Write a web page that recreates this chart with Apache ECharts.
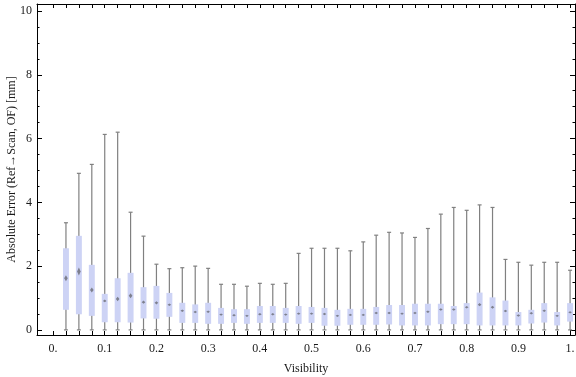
<!DOCTYPE html>
<html style="height: 100%">
<head>
    <meta charset="utf-8">
</head>
<body style="height: 100%; margin: 0; background: #fff">
<div id="container" style="width: 576px; height: 377px"></div>
<script type="text/javascript" src="https://cdn.jsdelivr.net/npm/echarts@6.0.0/dist/echarts.min.js"></script>
<script type="text/javascript">
  // box centers on the visibility axis
  const visibility = [0.025, 0.05, 0.075, 0.1, 0.125, 0.15, 0.175, 0.2, 0.225, 0.25,
    0.275, 0.3, 0.325, 0.35, 0.375, 0.4, 0.425, 0.45, 0.475, 0.5,
    0.525, 0.55, 0.575, 0.6, 0.625, 0.65, 0.675, 0.7, 0.725, 0.75,
    0.775, 0.8, 0.825, 0.85, 0.875, 0.9, 0.925, 0.95, 0.975, 1.0];
  const whiskerLow = [0, 0, 0, 0, 0, 0, 0, 0, 0, 0,
    0, 0, 0, 0, 0, 0, 0, 0, 0, 0,
    0, 0, 0, 0, 0, 0, 0, 0, 0, 0,
    0, 0, 0, 0, 0, 0, 0, 0, 0, 0];
  const quartile1 = [0.63, 0.49, 0.44, 0.24, 0.24, 0.23, 0.36, 0.35, 0.41, 0.22,
    0.22, 0.19, 0.19, 0.22, 0.19, 0.22, 0.22, 0.22, 0.19, 0.22,
    0.13, 0.13, 0.16, 0.16, 0.16, 0.17, 0.14, 0.14, 0.14, 0.18,
    0.18, 0.18, 0.14, 0.14, 0.14, 0.14, 0.2, 0.23, 0.14, 0.26];
  const medians = [1.62, 1.83, 1.25, 0.91, 0.97, 1.07, 0.87, 0.85, 0.79, 0.60,
    0.56, 0.57, 0.48, 0.46, 0.44, 0.49, 0.49, 0.48, 0.51, 0.51,
    0.50, 0.44, 0.47, 0.47, 0.53, 0.53, 0.51, 0.53, 0.57, 0.64,
    0.64, 0.71, 0.79, 0.71, 0.59, 0.45, 0.52, 0.60, 0.44, 0.55];
  const quartile3 = [2.56, 2.95, 2.04, 1.13, 1.62, 1.79, 1.34, 1.38, 1.16, 0.85,
    0.80, 0.85, 0.69, 0.65, 0.65, 0.75, 0.75, 0.69, 0.75, 0.72,
    0.69, 0.63, 0.66, 0.66, 0.72, 0.78, 0.78, 0.82, 0.82, 0.82,
    0.75, 0.84, 1.17, 1.02, 0.92, 0.56, 0.63, 0.84, 0.56, 0.84];
  const whiskerHigh = [3.36, 4.91, 5.19, 6.13, 6.20, 3.69, 2.94, 2.06, 1.92, 1.95,
    2.0, 1.93, 1.43, 1.43, 1.37, 1.46, 1.43, 1.46, 2.40, 2.56,
    2.56, 2.56, 2.48, 2.76, 2.97, 3.06, 3.04, 2.90, 3.18, 3.63,
    3.84, 3.75, 3.92, 3.84, 2.21, 2.12, 2.03, 2.12, 2.12, 1.87];

  // ticks and labels
  const xTicks = [0, 0.025, 0.05, 0.075, 0.1, 0.125, 0.15, 0.175, 0.2, 0.225, 0.25,
    0.275, 0.3, 0.325, 0.35, 0.375, 0.4, 0.425, 0.45, 0.475, 0.5,
    0.525, 0.55, 0.575, 0.6, 0.625, 0.65, 0.675, 0.7, 0.725, 0.75,
    0.775, 0.8, 0.825, 0.85, 0.875, 0.9, 0.925, 0.95, 0.975, 1.0];
  const xLabels = [0, 0.1, 0.2, 0.3, 0.4, 0.5, 0.6, 0.7, 0.8, 0.9, 1];
  const yMajor = [0, 2, 4, 6, 8, 10];
  const yMinor = [0, 0.5, 1, 1.5, 2, 2.5, 3, 3.5, 4, 4.5, 5, 5.5, 6, 6.5, 7, 7.5,
    8, 8.5, 9, 9.5, 10];

  const font = 'Liberation Serif';
  const textColor = '#1a1a1a';
  const xRange = { min: -0.031, max: 1.0095 };
  const yRange = { min: -0.16, max: 10.22 };

  const boxData = visibility.map(function (v, i) {
    return [v, whiskerLow[i], quartile1[i], medians[i], quartile3[i], whiskerHigh[i]];
  });

  function renderBox(params, api) {
    const x = api.value(0);
    const lo = api.coord([x, api.value(1)]);
    const q1 = api.coord([x, api.value(2)]);
    const med = api.coord([x, api.value(3)]);
    const q3 = api.coord([x, api.value(4)]);
    const hi = api.coord([x, api.value(5)]);
    const cx = med[0];
    const half = api.size([0.025, 0])[0] * 0.23;
    const cap = 2;
    const notch = Math.max(1.2, (q1[1] - q3[1]) * 0.05);
    const whisker = { stroke: '#808080', lineWidth: 1.2 };
    return {
      type: 'group',
      children: [
        { type: 'line', shape: { x1: cx, y1: lo[1], x2: cx, y2: hi[1] }, style: whisker },
        { type: 'line', shape: { x1: cx - cap, y1: hi[1], x2: cx + cap, y2: hi[1] }, style: whisker },
        { type: 'line', shape: { x1: cx - cap, y1: lo[1], x2: cx + cap, y2: lo[1] }, style: whisker },
        { type: 'rect', shape: { x: cx - half, y: q3[1], width: half * 2, height: q1[1] - q3[1] },
          style: { fill: '#cdd3f5' } },
        { type: 'polygon',
          shape: { points: [[cx, med[1] - notch], [cx + 1.8, med[1]], [cx, med[1] + notch], [cx - 1.8, med[1]]] },
          style: { fill: '#7e808e' } }
      ]
    };
  }

  const frameLine = { show: true, onZero: false, lineStyle: { color: '#000', width: 1 } };
  const noLine = { show: false, onZero: false };

  var dom = document.getElementById('container');
  var myChart = echarts.init(dom, null, { renderer: 'canvas' });
  var option = {
    animation: false,
    backgroundColor: '#fff',
    grid: { left: 37, right: 1, top: 4, bottom: 42, containLabel: false, outerBoundsMode: 'none' },
    xAxis: [
      {
        type: 'value', position: 'bottom', min: xRange.min, max: xRange.max,
        name: 'Visibility', nameLocation: 'middle', nameGap: 28, nameMoveOverlap: false,
        nameTextStyle: { fontFamily: font, fontSize: 12, color: textColor },
        axisLine: frameLine,
        axisTick: { show: true, inside: true, length: 4, customValues: xTicks, lineStyle: { color: '#000' } },
        axisLabel: {
          show: true, customValues: xLabels, margin: 8,
          fontFamily: font, fontSize: 12, color: textColor,
          formatter: function (v) {
            if (v === 0) return '0.';
            if (v === 1) return '1.';
            return v.toFixed(1);
          }
        },
        splitLine: { show: false }
      },
      {
        type: 'value', position: 'top', min: xRange.min, max: xRange.max,
        axisLine: frameLine,
        axisTick: { show: true, inside: true, length: 4, customValues: xTicks, lineStyle: { color: '#000' } },
        axisLabel: { show: false },
        splitLine: { show: false }
      }
    ],
    yAxis: [
      {
        type: 'value', position: 'left', min: yRange.min, max: yRange.max,
        name: 'Absolute Error (Ref\u2192Scan, OF) [mm]', nameLocation: 'middle', nameGap: 19,
        nameMoveOverlap: false,
        nameTextStyle: { fontFamily: font, fontSize: 12, color: textColor },
        axisLine: frameLine,
        axisTick: { show: true, inside: true, length: 5, customValues: yMajor, lineStyle: { color: '#000' } },
        axisLabel: {
          show: true, customValues: yMajor, margin: 5,
          fontFamily: font, fontSize: 12, color: textColor
        },
        splitLine: { show: false }
      },
      {
        type: 'value', position: 'left', min: yRange.min, max: yRange.max,
        axisLine: noLine,
        axisTick: { show: true, inside: true, length: 2.5, customValues: yMinor, lineStyle: { color: '#000' } },
        axisLabel: { show: false },
        splitLine: { show: false }
      },
      {
        type: 'value', position: 'right', min: yRange.min, max: yRange.max,
        axisLine: frameLine,
        axisTick: { show: true, inside: true, length: 5, customValues: yMajor, lineStyle: { color: '#000' } },
        axisLabel: { show: false },
        splitLine: { show: false }
      },
      {
        type: 'value', position: 'right', min: yRange.min, max: yRange.max,
        axisLine: noLine,
        axisTick: { show: true, inside: true, length: 2.5, customValues: yMinor, lineStyle: { color: '#000' } },
        axisLabel: { show: false },
        splitLine: { show: false }
      }
    ],
    series: [
      {
        type: 'custom',
        xAxisIndex: 0,
        yAxisIndex: 0,
        renderItem: renderBox,
        encode: { x: 0, y: [1, 2, 3, 4, 5] },
        data: boxData,
        clip: true
      }
    ]
  };
  myChart.setOption(option);
</script>
</body>
</html>
